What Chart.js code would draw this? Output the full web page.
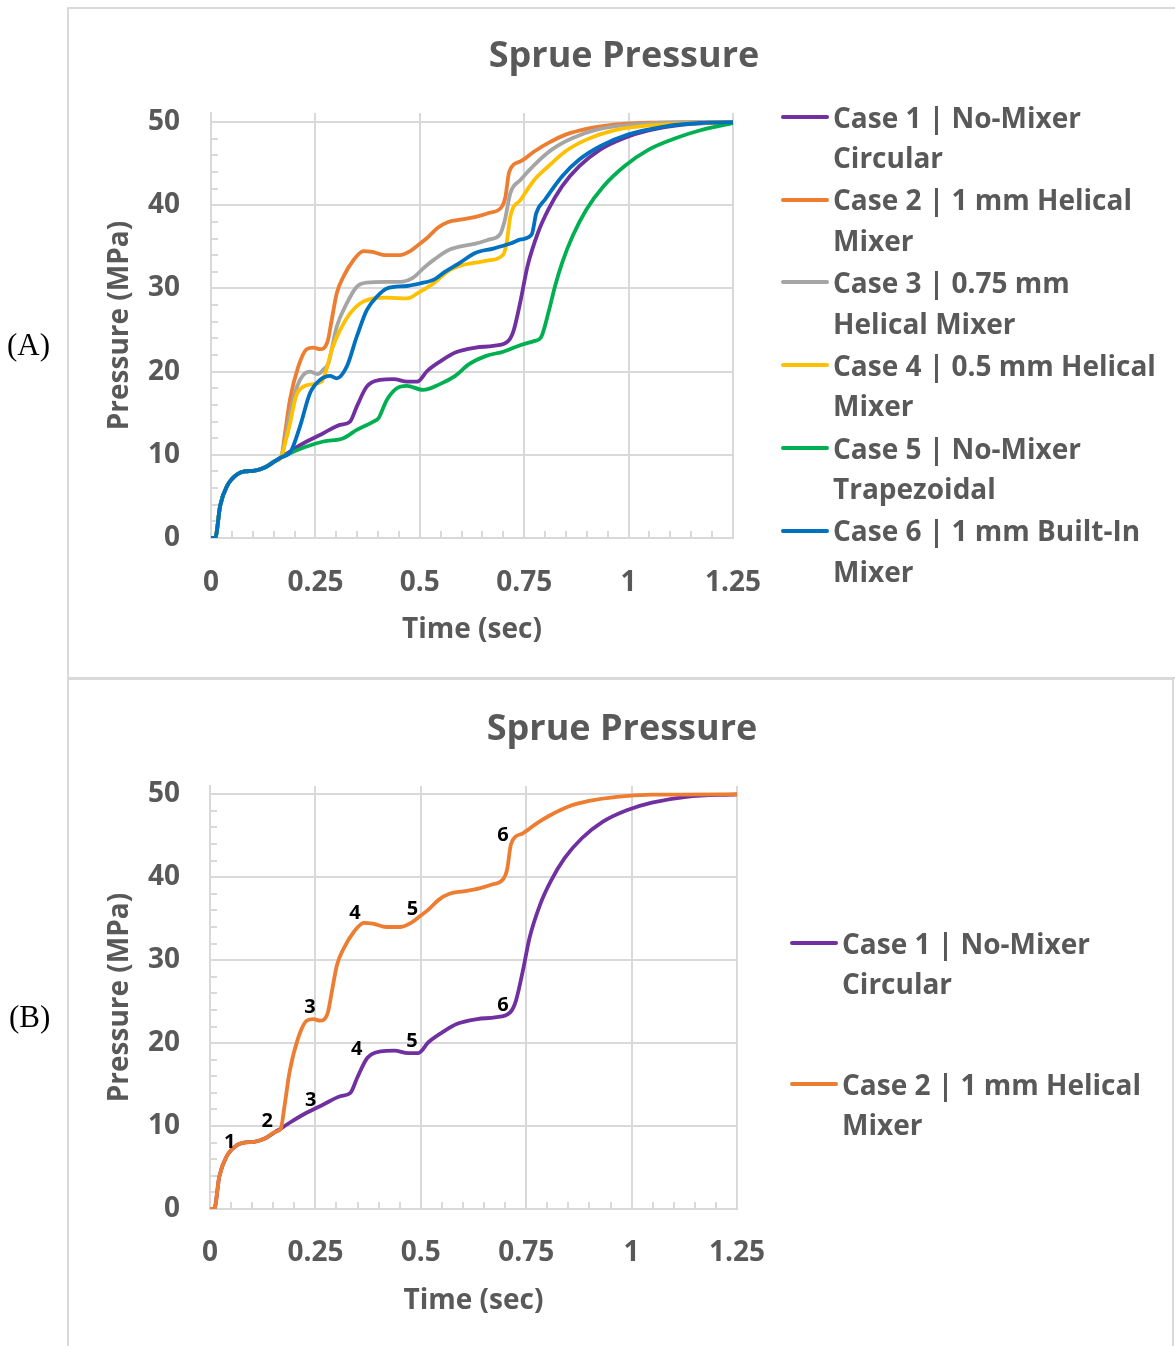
<!DOCTYPE html>
<html><head><meta charset="utf-8">
<script src="https://cdn.jsdelivr.net/npm/chart.js@4.4.1/dist/chart.umd.min.js"></script>
<style>
html,body{margin:0;padding:0;background:#fff;}
body{width:1175px;height:1346px;position:relative;overflow:hidden;font-family:'Open Sans',sans-serif;}
.panel{position:absolute;box-sizing:border-box;border:2px solid #d9d9d9;}
#panelA{left:67px;top:7px;width:1140px;height:672px;}
#panelB{left:67px;top:678px;width:1107px;height:700px;}
canvas{position:absolute;}
.title{position:absolute;font-weight:700;font-size:36px;color:#595959;text-align:center;line-height:44px;white-space:nowrap;width:400px;}
.tag{position:absolute;font-family:'Liberation Serif','Times New Roman',serif;font-size:31px;color:#000;line-height:34px;}
.leg{position:absolute;font-weight:700;font-size:28px;color:#595959;line-height:40.5px;white-space:pre;}
.legline{position:absolute;height:4px;width:48px;border-radius:2px;}
</style></head><body>
<div class="panel" id="panelA"></div>
<div class="panel" id="panelB"></div>
<canvas id="cA" width="800" height="680" style="left:0;top:0"></canvas>
<canvas id="cB" width="800" height="666" style="left:0;top:680px"></canvas>
<div class="title" style="left:424px;top:32px">Sprue Pressure</div>
<div class="title" style="left:422px;top:705px">Sprue Pressure</div>
<div class="tag" style="left:7px;top:328px">(A)</div>
<div class="tag" style="left:9px;top:1000px">(B)</div>
<div id="legA"></div>
<div id="legB"></div>
<script>
// ---- data ----
const xTicks = [0, 0.25, 0.5, 0.75, 1, 1.25];
const xTickLabels = ['0', '0.25', '0.5', '0.75', '1', '1.25'];
const yTicks = [0, 10, 20, 30, 40, 50];
const yTickLabels = ['0', '10', '20', '30', '40', '50'];

// shared initial rise (all cases)
const commonX = [0, 0.01, 0.022, 0.039, 0.064, 0.08, 0.105, 0.13, 0.155, 0.168];
const commonY = [0, 0, 3.9, 6.3, 7.7, 8.0, 8.1, 8.5, 9.3, 9.7];

const case1X = [0.189, 0.229, 0.269, 0.309, 0.333, 0.349, 0.373, 0.405, 0.437, 0.47, 0.494, 0.518, 0.551, 0.585, 0.634, 0.676, 0.712, 0.725, 0.742, 0.758, 0.783, 0.808, 0.841, 0.882, 0.932, 0.99, 1.048, 1.13, 1.25];
const case1Y = [10.4, 11.6, 12.6, 13.6, 14.0, 15.8, 18.2, 19.0, 19.1, 18.8, 18.8, 20.1, 21.3, 22.3, 22.9, 23.1, 23.7, 25.0, 28.7, 32.7, 36.7, 39.5, 42.3, 44.7, 46.7, 48.1, 49.0, 49.7, 50];

const case2X = [0.177, 0.189, 0.209, 0.229, 0.245, 0.261, 0.279, 0.289, 0.301, 0.317, 0.341, 0.365, 0.386, 0.419, 0.452, 0.477, 0.498, 0.518, 0.543, 0.568, 0.601, 0.634, 0.667, 0.696, 0.705, 0.714, 0.742, 0.775, 0.808, 0.849, 0.899, 0.965, 1.048, 1.25];
const case2Y = [12.5, 16.6, 20.6, 22.7, 22.9, 22.7, 23.6, 26.2, 29.4, 31.4, 33.4, 34.5, 34.4, 34.0, 34.0, 34.5, 35.3, 36.1, 37.3, 38.0, 38.3, 38.6, 39.1, 39.8, 41.0, 44.0, 45.3, 46.5, 47.5, 48.5, 49.2, 49.7, 49.95, 50];

const case3X = [0.178, 0.188, 0.204, 0.221, 0.237, 0.255, 0.27, 0.281, 0.301, 0.325, 0.349, 0.373, 0.419, 0.453, 0.484, 0.51, 0.535, 0.568, 0.601, 0.634, 0.667, 0.692, 0.704, 0.717, 0.742, 0.775, 0.816, 0.866, 0.924, 1.006, 1.13, 1.25];
const case3Y = [12.0, 14.7, 17.9, 19.6, 20.0, 19.7, 20.3, 21.0, 25.4, 28.2, 30.2, 30.7, 30.8, 30.8, 31.3, 32.5, 33.5, 34.6, 35.1, 35.4, 35.9, 36.5, 38.3, 41.5, 43.1, 44.9, 46.7, 48.1, 49.1, 49.7, 50, 50];

const case4X = [0.178, 0.188, 0.204, 0.221, 0.245, 0.265, 0.279, 0.289, 0.309, 0.333, 0.357, 0.389, 0.419, 0.469, 0.5, 0.535, 0.568, 0.601, 0.634, 0.667, 0.7, 0.708, 0.717, 0.742, 0.775, 0.808, 0.849, 0.899, 0.965, 1.048, 1.17, 1.25];
const case4Y = [11.5, 13.5, 17.1, 18.2, 18.5, 18.8, 20.7, 22.6, 25.0, 27.0, 28.2, 28.8, 28.9, 28.8, 29.6, 30.7, 32.1, 32.8, 33.1, 33.4, 34.1, 35.5, 38.7, 40.7, 43.1, 44.7, 46.5, 47.9, 49.0, 49.6, 49.9, 50];

const case5X = [0.189, 0.229, 0.269, 0.317, 0.349, 0.389, 0.401, 0.421, 0.445, 0.469, 0.508, 0.548, 0.585, 0.618, 0.659, 0.7, 0.742, 0.775, 0.79, 0.808, 0.824, 0.841, 0.866, 0.899, 0.94, 0.99, 1.048, 1.114, 1.17, 1.25];
const case5Y = [10.2, 11.0, 11.6, 12.0, 13.0, 14.0, 14.4, 16.6, 18.0, 18.3, 17.8, 18.5, 19.5, 20.9, 21.9, 22.4, 23.2, 23.7, 24.1, 27.1, 30.3, 33.1, 36.3, 39.5, 42.3, 44.7, 46.7, 48.1, 49.0, 49.9];

const case6X = [0.19, 0.213, 0.237, 0.261, 0.285, 0.301, 0.325, 0.349, 0.373, 0.397, 0.421, 0.469, 0.5, 0.535, 0.56, 0.593, 0.634, 0.676, 0.717, 0.742, 0.768, 0.779, 0.8, 0.841, 0.882, 0.932, 0.998, 1.089, 1.17, 1.25];
const case6Y = [10.3, 13.4, 17.4, 19.0, 19.5, 19.2, 20.6, 24.2, 27.4, 29.0, 30.0, 30.3, 30.6, 31.1, 32.0, 33.0, 34.3, 34.8, 35.4, 35.9, 36.5, 39.1, 40.7, 43.5, 45.5, 47.1, 48.5, 49.5, 49.9, 50];

const seriesNames = [
  'Case 1 | No-Mixer\nCircular',
  'Case 2 | 1 mm Helical\nMixer',
  'Case 3 | 0.75 mm\nHelical Mixer',
  'Case 4 | 0.5 mm Helical\nMixer',
  'Case 5 | No-Mixer\nTrapezoidal',
  'Case 6 | 1 mm Built-In\nMixer'
];
const seriesColors = ['#7030a0', '#ed7d31', '#a5a5a5', '#ffc000', '#00b050', '#0070c0'];

// annotation labels for chart (B)
const annoText = ['1', '2', '3', '4', '5', '6', '3', '4', '5', '6'];
const annoX = [0.047, 0.136, 0.237, 0.344, 0.480, 0.695, 0.239, 0.348, 0.479, 0.695];
const annoY = [8.1, 10.6, 24.3, 35.7, 36.1, 45.1, 13.1, 19.2, 20.2, 24.6];

// ---- helpers ----
const caseX = [case1X, case2X, case3X, case4X, case5X, case6X];
const caseY = [case1Y, case2Y, case3Y, case4Y, case5Y, case6Y];
function seriesPoints(i) {
  const xs = commonX.concat(caseX[i]);
  const ys = commonY.concat(caseY[i]);
  return xs.map((x, k) => ({x: x, y: ys[k]}));
}
function labelFor(v, vals, labels) {
  for (let k = 0; k < vals.length; k++) if (Math.abs(vals[k] - v) < 1e-6) return labels[k];
  return '';
}
const TXT = '#595959';
const GRID = '#d9d9d9';
const FONT = 'Open Sans';

const minorTicks = {
  id: 'minorTicks',
  beforeDatasetsDraw(chart) {
    const {ctx, scales: {x, y}, chartArea: ca} = chart;
    ctx.save();
    ctx.strokeStyle = GRID; ctx.lineWidth = 2;
    ctx.beginPath();
    for (let k = 0; k <= 25; k++) {
      const p = Math.round(y.getPixelForValue(k * 2));
      ctx.moveTo(ca.left, p); ctx.lineTo(ca.left + 7, p);
    }
    for (let k = 0; k <= 25; k++) {
      const p = Math.round(x.getPixelForValue(k * 0.05));
      ctx.moveTo(p, ca.bottom); ctx.lineTo(p, ca.bottom - 7);
    }
    ctx.stroke();
    ctx.restore();
  }
};

const annotations = {
  id: 'annotations',
  afterDatasetsDraw(chart, args, opts) {
    if (!opts.on) return;
    const {ctx, scales: {x, y}} = chart;
    ctx.save();
    ctx.fillStyle = '#000';
    ctx.font = 'bold 20px "' + FONT + '"';
    ctx.textAlign = 'center'; ctx.textBaseline = 'middle';
    for (let k = 0; k < annoText.length; k++) {
      ctx.fillText(annoText[k], x.getPixelForValue(annoX[k]), y.getPixelForValue(annoY[k]));
    }
    ctx.restore();
  }
};

function makeChart(id, idxs, g, anno) {
  const datasets = idxs.map(i => ({
    label: seriesNames[i].replace('\n', ' '),
    data: seriesPoints(i),
    borderColor: seriesColors[i],
    backgroundColor: seriesColors[i],
    borderWidth: 3.8,
    pointRadius: 0,
    fill: false,
    cubicInterpolationMode: 'monotone',
    order: 10 - i
  }));
  const tickFont = {family: FONT, size: 28, weight: 'bold'};
  return new Chart(document.getElementById(id), {
    type: 'line',
    data: {datasets},
    plugins: [minorTicks, annotations],
    options: {
      responsive: false,
      animation: false,
      devicePixelRatio: 1,
      layout: {padding: {left: 0, right: g.w - g.right, top: g.top, bottom: 0}},
      plugins: {
        legend: {display: false},
        tooltip: {enabled: false},
        annotations: {on: anno}
      },
      scales: {
        x: {
          type: 'linear', min: 0, max: 1.25,
          afterFit: s => { s.height = g.h - g.bottom; },
          ticks: {stepSize: 0.25, padding: g.xTickPad, color: TXT, font: tickFont, maxRotation: 0,
                  callback: v => labelFor(v, xTicks, xTickLabels)},
          grid: {color: GRID, lineWidth: 2, drawTicks: false},
          border: {color: GRID, width: 2},
          title: {display: true, text: 'Time (sec)', color: TXT, font: tickFont, padding: {top: 0, bottom: g.xTitlePad}}
        },
        y: {
          type: 'linear', min: 0, max: g.yMax,
          afterFit: s => { s.width = g.left; },
          ticks: {stepSize: 10, includeBounds: false, padding: g.yTickPad, color: TXT, font: tickFont,
                  callback: v => labelFor(v, yTicks, yTickLabels)},
          grid: {color: GRID, lineWidth: 2, drawTicks: false},
          border: {color: GRID, width: 2},
          title: {display: true, text: 'Pressure (MPa)', color: TXT, font: tickFont, padding: {top: g.yTitlePad, bottom: 0}}
        }
      }
    }
  });
}

function makeLegend(id, idxs, lineLeft, textLeft, centers) {
  const box = document.getElementById(id);
  idxs.forEach((i, k) => {
    const c = centers[k];
    const ln = document.createElement('div');
    ln.className = 'legline';
    ln.style.left = lineLeft + 'px'; ln.style.top = (c - 2) + 'px';
    ln.style.background = seriesColors[i];
    box.appendChild(ln);
    const t = document.createElement('div');
    t.className = 'leg';
    t.style.left = textLeft + 'px'; t.style.top = (c - 20.25) + 'px';
    t.textContent = seriesNames[i];
    box.appendChild(t);
  });
}

makeChart('cA', [0, 1, 2, 3, 4, 5],
  {w: 800, h: 680, left: 211, right: 733, top: 113, bottom: 538, yMax: 51.1, yTickPad: 31, xTickPad: 28, yTitlePad: 103, xTitlePad: 33}, false);
makeChart('cB', [0, 1],
  {w: 800, h: 666, left: 210, right: 737, top: 106, bottom: 529, yMax: 51.0, yTickPad: 30, xTickPad: 27, yTitlePad: 103, xTitlePad: 28}, true);

makeLegend('legA', [0, 1, 2, 3, 4, 5], 781, 833, [117, 199.7, 282.4, 365.1, 447.8, 530.5]);
makeLegend('legB', [0, 1], 790, 842, [943, 1084]);
</script>
</body></html>
